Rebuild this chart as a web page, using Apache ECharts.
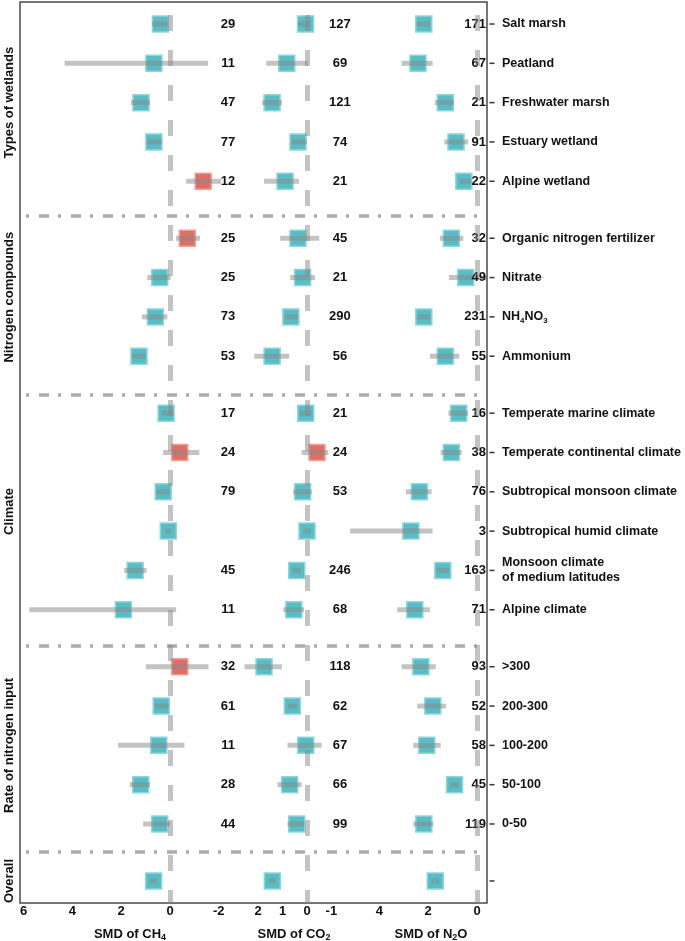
<!DOCTYPE html>
<html>
<head>
<meta charset="utf-8">
<title>SMD forest plot</title>
<script src="https://cdn.jsdelivr.net/npm/echarts@6/dist/echarts.min.js"></script>
<style>
html, body { margin: 0; padding: 0; background: #fff; }
#main { width: 685px; height: 941px; }
</style>
</head>
<body>
<div id="main"></div>
<script>
// rows from top to bottom
var rowNames = ['Salt marsh', 'Peatland', 'Freshwater marsh', 'Estuary wetland', 'Alpine wetland',
    'Organic nitrogen fertilizer', 'Nitrate', 'NH4NO3', 'Ammonium',
    'Temperate marine climate', 'Temperate continental climate', 'Subtropical monsoon climate',
    'Subtropical humid climate', 'Monsoon climate\nof medium latitudes', 'Alpine climate',
    '>300', '200-300', '100-200', '50-100', '0-50', ''];
var rowGroup = [0,0,0,0,0, 1,1,1,1, 2,2,2,2,2,2, 3,3,3,3,3, 4];
var groupNames = ['Types of wetlands', 'Nitrogen compounds', 'Climate', 'Rate of nitrogen input', 'Overall'];

// SMD of CH4
var ch4Mean  = [0.39, 0.66, 1.19, 0.66, -1.36, -0.71, 0.42, 0.60, 1.27, 0.16, -0.40, 0.28, 0.07, 1.43, 1.91, -0.40, 0.36, 0.46, 1.20, 0.42, 0.67];
var ch4Upper = [0.74, 4.32, 1.60, 0.95, -0.66, -0.25, 0.93, 1.16, 1.55, 0.34, 0.28, 0.55, 0.20, 1.88, 5.76, 0.99, 0.60, 2.13, 1.65, 1.10, 0.83];
var ch4Lower = [0.08, -1.56, 0.82, 0.33, -2.10, -1.23, -0.03, 0.11, 1.00, -0.14, -1.20, 0.00, -0.05, 0.96, -0.25, -1.58, 0.05, -0.59, 0.82, 0.00, 0.53];
var ch4N     = [29, 11, 47, 77, 12, 25, 25, 73, 53, 17, 24, 79, null, 45, 11, 32, 61, 11, 28, 44, null];

// SMD of CO2
var co2Mean  = [0.06, 0.83, 1.43, 0.37, 0.90, 0.37, 0.18, 0.66, 1.43, 0.05, -0.41, 0.18, 0.00, 0.42, 0.54, 1.76, 0.60, 0.05, 0.71, 0.42, 1.42];
var co2Upper = [0.37, 1.67, 1.84, 0.65, 1.76, 1.10, 0.69, 0.90, 2.16, 0.30, 0.22, 0.56, 0.15, 0.60, 0.97, 2.56, 0.78, 0.80, 1.21, 0.80, 1.55];
var co2Lower = [-0.12, -0.04, 1.02, 0.00, 0.33, -0.50, -0.33, 0.37, 0.73, -0.20, -0.87, -0.19, -0.15, 0.25, 0.12, 1.03, 0.42, -0.60, 0.22, 0.11, 1.30];
var co2N     = [127, 69, 121, 74, 21, 45, 21, 290, 56, 21, 24, 53, null, 246, 68, 118, 62, 67, 66, 99, null];

// SMD of N2O
var n2oMean  = [2.18, 2.42, 1.30, 0.86, 0.54, 1.05, 0.46, 2.18, 1.30, 0.75, 1.05, 2.36, 2.71, 1.40, 2.55, 2.30, 1.81, 2.06, 0.92, 2.18, 1.71];
var n2oUpper = [2.47, 3.09, 1.73, 1.34, 0.70, 1.52, 1.15, 2.45, 1.93, 1.17, 1.49, 2.91, 5.20, 1.65, 3.27, 3.09, 2.45, 2.61, 1.10, 2.61, 1.88];
var n2oLower = [1.93, 1.82, 0.94, 0.36, 0.22, 0.56, -0.37, 1.93, 0.73, 0.36, 0.63, 1.86, 1.82, 1.15, 1.93, 1.69, 1.27, 1.49, 0.75, 1.79, 1.55];
var n2oN     = [171, 67, 21, 91, 22, 32, 49, 231, 55, 16, 38, 76, 3, 163, 71, 93, 52, 58, 45, 119, null];

var ch4Ticks = [6, 4, 2, 0, -2];
var co2Ticks = [2, 1, 0, -1];
var n2oTicks = [4, 2, 0];

var FONT = 'Arial, "Liberation Sans", sans-serif';
var TEAL = 'rgba(70,182,191,0.9)', TEAL_EDGE = '#8fd6db';
var RED = 'rgba(221,94,84,0.9)', RED_EDGE = '#eca29c';

// row positions on the y axis, groups pushed apart a bit
var GROUP_GAP = 0.45;
var rowPos = rowNames.map(function (n, i) { return +(i + rowGroup[i] * GROUP_GAP).toFixed(3); });
var sepOffsets = [0.87, 0.97, 0.92, 0.71];
var sepPos = [], groupCenter = [];
groupNames.forEach(function (g, k) {
    var idx = [];
    rowGroup.forEach(function (r, i) { if (r === k) idx.push(i); });
    var first = rowPos[idx[0]], last = rowPos[idx[idx.length - 1]];
    groupCenter.push(+((first + last) / 2).toFixed(3));
    if (k < sepOffsets.length) sepPos.push(last + sepOffsets[k]);
});
var yMin = -0.56, yMax = rowPos[rowPos.length - 1] + 0.56;

function findIdx(arr, v) {
    for (var i = 0; i < arr.length; i++) if (Math.abs(arr[i] - v) < 1e-6) return i;
    return -1;
}

var panels = [
    {sub: ['C', 'H', '4'], mean: ch4Mean, up: ch4Upper, lo: ch4Lower, n: ch4N, ticks: ch4Ticks,
        left: 20, width: 230, min: -3.279, max: 6.148, nX: -2.38, nAlign: 'center', pad: [0, 10, 0, 0]},
    {sub: ['C', 'O', '2'], mean: co2Mean, up: co2Upper, lo: co2Lower, n: co2N, ticks: co2Ticks,
        left: 250, width: 105, min: -1.967, max: 2.336, nX: -1.35, nAlign: 'center', pad: [0, 17, 0, 0]},
    {sub: ['N', '', '2', 'O'], mean: n2oMean, up: n2oUpper, lo: n2oLower, n: n2oN, ticks: n2oTicks,
        left: 355, width: 132, min: -0.41, max: 5.0, nX: -0.37, nAlign: 'right', pad: [0, 0, 0, 20]}
];

var grids = [{left: 20, right: 198, top: 2, bottom: 38, outerBoundsMode: 'none', containLabel: false,
    show: true, borderColor: '#4a4a4a', borderWidth: 1.5}];
var xAxes = [{gridIndex: 0, type: 'value', min: 0, max: 1, show: false}];
var yAxes = [
    {   // category names on the right
        gridIndex: 0, type: 'value', inverse: true, min: yMin, max: yMax, position: 'right',
        axisLine: {show: false}, splitLine: {show: false}, axisTick: {show: false},
        axisLabel: {
            show: true, customValues: rowPos, margin: 15,
            fontFamily: FONT, fontSize: 12.5, fontWeight: 'bold', color: '#111', lineHeight: 15,
            formatter: function (v) {
                var name = rowNames[findIdx(rowPos, v)] || '';
                if (name === 'NH4NO3') return '{a|NH}{s|4}{a|NO}{s|3}';
                return name;
            },
            rich: {
                a: {fontFamily: FONT, fontSize: 12.5, fontWeight: 'bold', color: '#111', lineHeight: 16},
                s: {fontFamily: FONT, fontSize: 8, fontWeight: 'bold', color: '#111', lineHeight: 9, verticalAlign: 'bottom'}
            }
        }
    },
    {   // group names on the left
        gridIndex: 0, type: 'value', inverse: true, min: yMin, max: yMax, position: 'left',
        axisLine: {show: false}, splitLine: {show: false}, axisTick: {show: false},
        axisLabel: {
            show: true, customValues: groupCenter, rotate: 90, margin: 4,
            fontFamily: FONT, fontSize: 13, fontWeight: 'bold', color: '#111',
            formatter: function (v) { return groupNames[findIdx(groupCenter, v)] || ''; }
        }
    }
];

var series = [{
    type: 'line', xAxisIndex: 0, yAxisIndex: 0, data: [[0, 0]], symbol: 'none',
    lineStyle: {opacity: 0}, silent: true,
    markLine: {
        silent: true, symbol: ['none', 'none'], label: {show: false},
        lineStyle: {color: '#ababab', width: 3.5, type: [10, 9, 3, 10], dashOffset: 13},
        data: sepPos.map(function (v) { return {yAxis: v}; })
    }
}, {
    // small tick marks right of the frame, one per row
    type: 'scatter', xAxisIndex: 0, yAxisIndex: 0, silent: true, clip: false,
    symbol: 'rect', symbolSize: [5, 1.5], symbolOffset: [5, 0],
    itemStyle: {color: '#333', opacity: 1},
    data: rowPos.map(function (v) { return [1, v]; })
}];

panels.forEach(function (p, k) {
    var gi = k + 1;
    grids.push({left: p.left, width: p.width, top: 2, bottom: 38, outerBoundsMode: 'none', containLabel: false});
    var nameRich = p.sub.length === 3
        ? '{a|SMD of ' + p.sub[0] + p.sub[1] + '}{s|' + p.sub[2] + '}'
        : '{a|SMD of ' + p.sub[0] + '}{s|' + p.sub[2] + '}{a|' + p.sub[3] + '}';
    xAxes.push({
        gridIndex: gi, type: 'value', inverse: true, min: p.min, max: p.max,
        axisLine: {show: false}, axisTick: {show: false}, splitLine: {show: false},
        axisLabel: {show: true, customValues: p.ticks, margin: 2, fontFamily: FONT, fontSize: 13, fontWeight: 'bold', color: '#111'},
        name: nameRich, nameLocation: 'middle', nameGap: 23,
        nameTextStyle: {
            padding: p.pad,
            rich: {
                a: {fontFamily: FONT, fontSize: 13, fontWeight: 'bold', color: '#111', lineHeight: 16},
                s: {fontFamily: FONT, fontSize: 9, fontWeight: 'bold', color: '#111', lineHeight: 9, verticalAlign: 'bottom'}
            }
        }
    });
    yAxes.push({gridIndex: gi, type: 'value', inverse: true, min: yMin, max: yMax, show: false});
    var yi = yAxes.length - 1;

    series.push({
        type: 'scatter', xAxisIndex: gi, yAxisIndex: yi, z: 2, symbol: 'rect', symbolSize: 16,
        data: p.mean.map(function (m, i) {
            var neg = m < 0;
            return {value: [m, rowPos[i]], itemStyle: {color: neg ? RED : TEAL, borderColor: neg ? RED_EDGE : TEAL_EDGE, borderWidth: 1.5, opacity: 1}};
        })
    });
    series.push({
        type: 'custom', xAxisIndex: gi, yAxisIndex: yi, z: 3,
        data: p.mean.map(function (m, i) { return [p.lo[i], rowPos[i], p.up[i]]; }),
        encode: {x: [0, 2], y: 1},
        renderItem: function (params, api) {
            var y = api.value(1);
            var a = api.coord([api.value(0), y]);
            var b = api.coord([api.value(2), y]);
            return {type: 'line', shape: {x1: a[0], y1: a[1], x2: b[0], y2: b[1]},
                style: {stroke: 'rgba(135,135,135,0.5)', lineWidth: 5}};
        },
        markLine: {
            silent: true, symbol: ['none', 'none'], label: {show: false},
            lineStyle: {color: 'rgba(135,135,135,0.5)', width: 5, type: [16, 19], dashOffset: 22},
            data: [{xAxis: 0}]
        }
    });
    var nData = [];
    p.n.forEach(function (v, i) { if (v != null) nData.push([p.nX, rowPos[i], v]); });
    series.push({
        type: 'scatter', xAxisIndex: gi, yAxisIndex: yi, z: 4, symbolSize: 1,
        itemStyle: {color: 'rgba(0,0,0,0)', opacity: 1}, data: nData,
        label: {show: true, position: 'inside', align: p.nAlign, verticalAlign: 'middle',
            formatter: function (q) { return q.value[2]; },
            fontFamily: FONT, fontSize: 13, fontWeight: 'bold', color: '#111'}
    });
});

var myChart = echarts.init(document.getElementById('main'), null, {renderer: 'canvas'});
myChart.setOption({
    animation: false,
    backgroundColor: '#fff',
    grid: grids,
    xAxis: xAxes,
    yAxis: yAxes,
    series: series
});
window.onresize = function () { myChart.resize(); };
</script>
</body>
</html>
